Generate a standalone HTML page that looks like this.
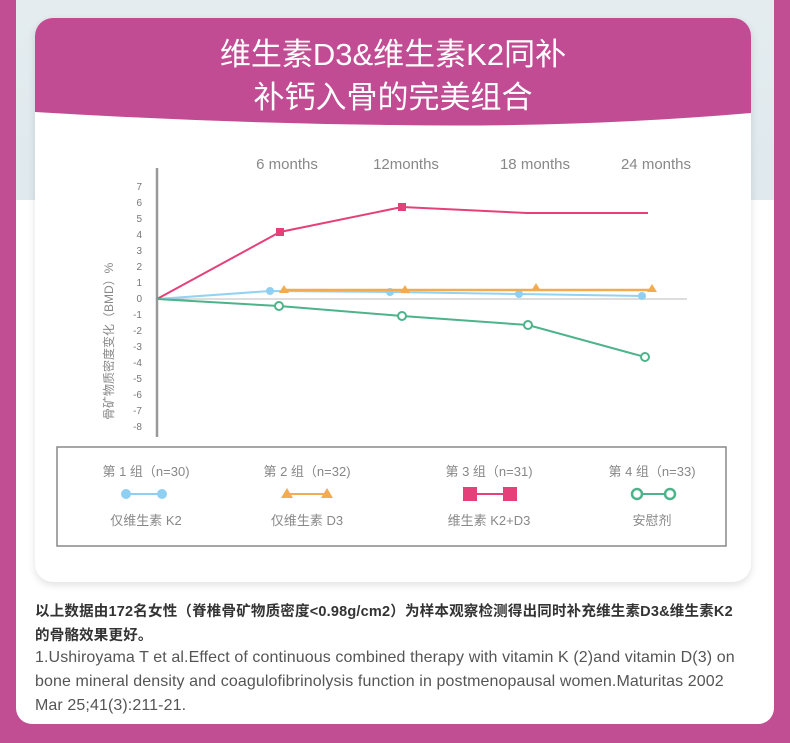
<!DOCTYPE html>
<html><head><meta charset="utf-8"><style>
html,body{margin:0;padding:0;}
body{width:790px;height:743px;background:#c14d93;position:relative;overflow:hidden;font-family:"Liberation Sans","Noto Sans CJK SC",sans-serif;}
.panel{position:absolute;left:16px;top:0;width:758px;height:724px;background:#fff;border-radius:0 0 16px 16px;overflow:hidden;}
.topimg{position:absolute;left:0;top:0;width:758px;height:200px;background:linear-gradient(180deg,#e4ecef,#dfe9ee);}
.card{position:absolute;left:35px;top:18px;width:716px;height:564px;background:#fff;border-radius:18px;box-shadow:0 3px 8px rgba(0,0,0,0.12);overflow:hidden;}
.hdr{position:absolute;left:0;top:0;width:716px;height:125px;}
.t{position:absolute;left:0;width:716px;text-align:center;color:#fff;font-size:31px;line-height:36px;}
.foot{position:absolute;left:35px;color:#333;white-space:nowrap;}
</style></head><body>
<div class="panel"><div class="topimg"></div></div>
<div class="card">
<svg class="hdr" width="716" height="125"><path d="M0 0H716V95Q540 110 358 107Q180 105 0 94Z" fill="#c24c93"/></svg>
<div class="t" style="top:19px">维生素D3&amp;维生素K2同补</div>
<div class="t" style="top:62px">补钙入骨的完美组合</div>
</div>
<svg style="position:absolute;left:0;top:0" width="790" height="743" font-family="Liberation Sans, Noto Sans CJK SC, sans-serif">
<g fill="#888" font-size="15" text-anchor="middle">
<text x="287" y="169">6 months</text><text x="406" y="169">12months</text><text x="535" y="169">18 months</text><text x="656" y="169">24 months</text>
</g>
<line x1="157" y1="168" x2="157" y2="437" stroke="#999" stroke-width="2.5"/>
<line x1="157" y1="299" x2="687" y2="299" stroke="#bbb" stroke-width="1"/>
<g fill="#777" font-size="10" text-anchor="end">
<text x="142" y="190">7</text><text x="142" y="206">6</text><text x="142" y="222">5</text><text x="142" y="238">4</text><text x="142" y="254">3</text><text x="142" y="270">2</text><text x="142" y="286">1</text><text x="142" y="302">0</text><text x="142" y="318">-1</text><text x="142" y="334">-2</text><text x="142" y="350">-3</text><text x="142" y="366">-4</text><text x="142" y="382">-5</text><text x="142" y="398">-6</text><text x="142" y="414">-7</text><text x="142" y="430">-8</text>
</g>
<text transform="translate(113,420) rotate(-90)" fill="#888" font-size="12">骨矿物质密度变化（BMD）%</text>
<polyline points="157,299 270,291 390,292 519,294 642,296" fill="none" stroke="#93d2f0" stroke-width="2"/>
<g fill="#8fd0f2"><circle cx="270" cy="291" r="4"/><circle cx="390" cy="292" r="4"/><circle cx="519" cy="294" r="4"/><circle cx="642" cy="296" r="4"/></g>
<polyline points="284,290 652,290" fill="none" stroke="#f3ab4f" stroke-width="2.5"/>
<g fill="#f3ab4f"><path d="M284 285l5 8h-10z"/><path d="M405 285l5 8h-10z"/><path d="M536 283l5 8h-10z"/><path d="M652 284l5 8h-10z"/></g>
<polyline points="157,299 280,232 402,207 527,213 648,213" fill="none" stroke="#e5407a" stroke-width="2"/>
<g fill="#e5407a"><rect x="276" y="228" width="8" height="8"/><rect x="398" y="203" width="8" height="8"/></g>
<polyline points="157,299 279,306 402,316 528,325 645,357" fill="none" stroke="#4db38a" stroke-width="2"/>
<g fill="#fff" stroke="#4db38a" stroke-width="2"><circle cx="279" cy="306" r="4"/><circle cx="402" cy="316" r="4"/><circle cx="528" cy="325" r="4"/><circle cx="645" cy="357" r="4"/></g>
<rect x="57" y="447" width="669" height="99" fill="none" stroke="#888" stroke-width="1.5"/>
<g fill="#888" font-size="13" text-anchor="middle">
<text x="146" y="476">第 1 组（n=30)</text><text x="307" y="476">第 2 组（n=32)</text><text x="489" y="476">第 3 组（n=31)</text><text x="652" y="476">第 4 组（n=33)</text>
<text x="146" y="525">仅维生素 K2</text><text x="307" y="525">仅维生素 D3</text><text x="489" y="525">维生素 K2+D3</text><text x="652" y="525">安慰剂</text>
</g>
<line x1="126" y1="494" x2="162" y2="494" stroke="#8fd0f2" stroke-width="2"/><circle cx="126" cy="494" r="5" fill="#8fd0f2"/><circle cx="162" cy="494" r="5" fill="#8fd0f2"/>
<line x1="287" y1="494" x2="327" y2="494" stroke="#f3ab4f" stroke-width="2"/><path d="M287 488l6 10h-12z M327 488l6 10h-12z" fill="#f3ab4f"/>
<line x1="470" y1="494" x2="510" y2="494" stroke="#e5407a" stroke-width="2"/><rect x="463" y="487" width="14" height="14" fill="#e5407a"/><rect x="503" y="487" width="14" height="14" fill="#e5407a"/>
<line x1="640" y1="494" x2="666" y2="494" stroke="#4db38a" stroke-width="2"/><circle cx="637" cy="494" r="5" fill="#fff" stroke="#4db38a" stroke-width="2.5"/><circle cx="670" cy="494" r="5" fill="#fff" stroke="#4db38a" stroke-width="2.5"/>
</svg>
<div class="foot" style="top:600px;font-size:14.5px;font-weight:bold;line-height:24px;letter-spacing:0.2px;">以上数据由172名女性（脊椎骨矿物质密度&lt;0.98g/cm2）为样本观察检测得出同时补充维生素D3&amp;维生素K2<br>的骨骼效果更好。</div>
<div class="foot" style="top:646px;font-size:16px;line-height:24px;color:#555;letter-spacing:0.1px;">1.Ushiroyama T et al.Effect of continuous combined therapy with vitamin K (2)and vitamin D(3) on<br>bone mineral density and coagulofibrinolysis function in postmenopausal women.Maturitas 2002<br>Mar 25;41(3):211-21.</div>
</body></html>
